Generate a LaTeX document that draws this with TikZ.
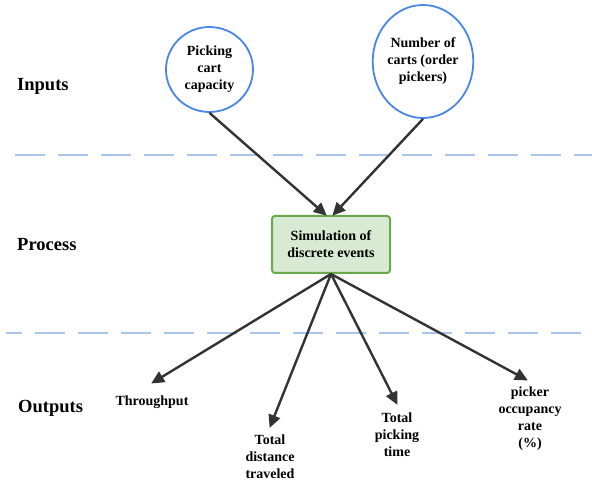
\documentclass[tikz,border=0pt]{standalone}
\usepackage{fontspec}
\setmainfont{Liberation Serif}
\usetikzlibrary{shapes.geometric,arrows.meta}
\definecolor{sepblue}{HTML}{A9C5EE}
\definecolor{elblue}{HTML}{4A86E8}
\definecolor{boxfill}{HTML}{D9EAD3}
\definecolor{boxdraw}{HTML}{6AA84F}
\definecolor{arrowgray}{HTML}{333333}
\tikzset{
  sep/.style={draw=sepblue, line width=1.3pt, dash pattern=on 30pt off 13pt},
  inel/.style={ellipse, draw=elblue, line width=1.8pt, inner sep=0pt, align=center,
    font=\bfseries\fontsize{14}{17}\selectfont},
  procbox/.style={rectangle, rounded corners=3pt, draw=boxdraw, fill=boxfill, line width=2pt,
    minimum width=118pt, minimum height=57pt, align=center, inner sep=0pt,
    font=\bfseries\fontsize{14}{17}\selectfont},
  outtxt/.style={align=center, inner sep=0pt, font=\bfseries\fontsize{14}{17}\selectfont},
  rowlabel/.style={anchor=west, inner sep=0pt, font=\bfseries\fontsize{18.5}{22}\selectfont},
  flow/.style={draw=arrowgray, line width=2.4pt, -{Triangle[length=13pt,width=12pt]}, shorten >=-1pt}
}
\begin{document}
\begin{tikzpicture}[x=1pt,y=-1pt]
\useasboundingbox (0,0) rectangle (592,481);
% separators
\draw[sep] (15,155) -- (592,155);
\draw[sep, dash phase=14pt] (6,333) -- (592,333);
% row labels
\node[rowlabel] (lin) at (17,86) {Inputs};
\node[rowlabel] (lpr) at (17,245) {Process};
\node[rowlabel] (lout) at (18,408) {Outputs};
% inputs
\node[inel, minimum width=87pt, minimum height=85pt] (cap) at (209.5,69.5) {Picking\\cart\\capacity};
\node[inel, minimum width=90pt, minimum height=113pt] (carts) at (423,61.5) {Number of\\carts (order\\pickers)};
% process
\node[procbox] (sim) at (331,244.5) {Simulation of\\discrete events};
% outputs
\node[outtxt] (thr) at (152,402) {Throughput};
\node[outtxt] (dist) at (270,457) {Total\\distance\\traveled};
\node[outtxt] (ptime) at (397,435) {Total\\picking\\time};
\node[outtxt] (occ) at (530,418.5) {picker\\occupancy\\rate\\(\%)};
% arrow tips
\coordinate (tthr) at (152,383);
\coordinate (tdist) at (270,427);
\coordinate (tptime) at (397,404);
\coordinate (tocc) at (527,380);
% connectors
\draw[flow] (cap.south) -- ([xshift=-5pt]sim.north);
\draw[flow] (carts.south) -- ([xshift=2pt]sim.north);
\draw[flow] (sim.south) -- (tthr);
\draw[flow] (sim.south) -- (tdist);
\draw[flow] (sim.south) -- (tptime);
\draw[flow] (sim.south) -- (tocc);
\end{tikzpicture}
\end{document}
